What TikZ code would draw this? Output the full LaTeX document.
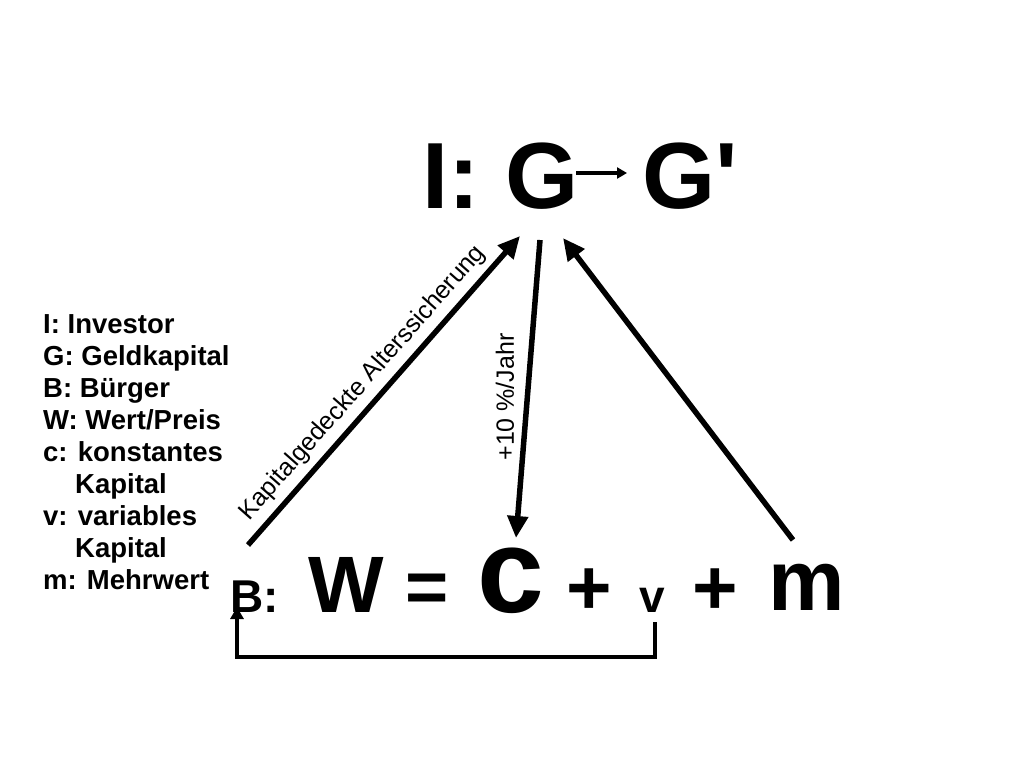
\documentclass[tikz,border=0pt]{standalone}
\usepackage{fontspec}
\setmainfont{Liberation Sans}
\newfontfamily\noligs[Ligatures=ResetAll]{Liberation Sans}
\usetikzlibrary{arrows.meta}
\begin{document}
\begin{tikzpicture}[x=1pt,y=-1pt,
  txt/.style={inner sep=0pt,anchor=base west,font=\bfseries},
  leg/.style={inner sep=0pt,anchor=base west,font=\fontsize{27.5}{29}\bfseries\selectfont},
  bigarrow/.style={line width=5.5pt,-{Triangle[length=22pt,width=20pt]}}]
\useasboundingbox (0,0) rectangle (1024,768);
\node[txt,font=\fontsize{94}{94}\bfseries\selectfont] (IG) at (422,208) {I: G};
\node[txt,font=\noligs\fontsize{94}{94}\bfseries\selectfont] (G2) at (642,208) {G'};
\coordinate (sa) at (576,173); \coordinate (sb) at (627,173);
\draw[line width=3.5pt,-{Triangle[length=10pt,width=11pt]}] (sa) -- (sb);
% legend
\node[leg] (l1) at (43,333) {I: Investor};
\node[leg] (l2) at (43,365) {G: Geldkapital};
\node[leg] (l3) at (43,397) {B: Bürger};
\node[leg] (l4) at (43,429) {W: Wert/Preis};
\node[leg] (l5) at (43,461) {c: konstantes};
\node[leg] (l6) at (75,493) {Kapital};
\node[leg] (l7) at (43,525) {v: variables};
\node[leg] (l8) at (75,557) {Kapital};
\node[leg] (l9) at (43,589) {m: Mehrwert};
% formula
\node[txt,font=\fontsize{46}{46}\bfseries\selectfont] (B) at (230,612) {B:};
\node[txt,font=\fontsize{80}{80}\bfseries\selectfont] (W) at (308,612) {W};
\node[txt,font=\fontsize{74}{74}\bfseries\selectfont] (eq) at (405,612) {=};
\node[txt,font=\fontsize{120}{120}\bfseries\selectfont] (c) at (477,612) {c};
\node[txt,font=\fontsize{78}{78}\bfseries\selectfont] (p1) at (566,614) {+};
\node[txt,font=\fontsize{46}{46}\bfseries\selectfont] (v) at (639,612) {v};
\node[txt,font=\fontsize{78}{78}\bfseries\selectfont] (p2) at (692,614) {+};
\node[txt,font=\fontsize{86}{86}\bfseries\selectfont] (m) at (768,610) {m};
% arrows
\coordinate (a1s) at (248,545); \coordinate (a1e) at (520,236);
\coordinate (a2s) at (540,240); \coordinate (a2e) at (516,538);
\coordinate (a3s) at (793,540); \coordinate (a3e) at (563,238);
\draw[bigarrow] (a1s) -- (a1e);
\draw[bigarrow] (a2s) -- (a2e);
\draw[bigarrow] (a3s) -- (a3e);
\node[inner sep=0pt,font=\fontsize{25}{25}\selectfont,rotate=48.5] (lab1) at (363,383) {Kapitalgedeckte Alterssicherung};
\node[inner sep=0pt,font=\fontsize{25}{25}\selectfont,rotate=90] (lab2) at (505,397) {+10 \%/Jahr};
% bracket
\coordinate (b1) at (655,622); \coordinate (b2) at (655,657);
\coordinate (b3) at (237,657); \coordinate (b4) at (237,607);
\draw[line width=4pt,-{Triangle[length=12pt,width=13pt]}] (b1) -- (b2) -- (b3) -- (b4);
\end{tikzpicture}
\end{document}
